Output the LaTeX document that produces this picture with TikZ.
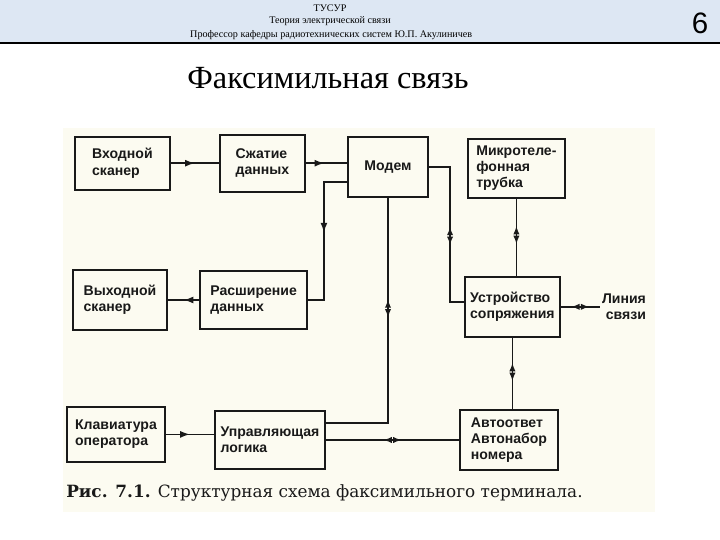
\documentclass[tikz,border=0pt]{standalone}
\usepackage{fontspec}
\setmainfont{Liberation Serif}
\setsansfont{Liberation Sans}
\newfontfamily\capfont{DejaVu Serif}
\usetikzlibrary{arrows.meta, decorations.markings}
\definecolor{hdrblue}{RGB}{221,231,243}
\definecolor{scanbg}{RGB}{252,251,241}
\definecolor{ink}{RGB}{25,25,25}

\begin{document}
\begin{tikzpicture}[
        blk/.style={draw=ink, line width=1.2pt, align=left, font=\sffamily\bfseries\fontsize{10}{11.5}\selectfont, text=ink},
        wire/.style={draw=ink, line width=1.2pt},
        arr/.style={wire, postaction={decorate}, decoration={markings, mark=at position #1 with {\arrow{Latex[length=7pt,width=5pt]}}}},
        dbl/.style={wire, postaction={decorate}, decoration={markings, mark=at position #1 with {\pgftransformxshift{6.5pt}\arrow{Latex[length=6pt,width=4.5pt]}\pgftransformxshift{-13pt}\arrowreversed{Latex[length=6pt,width=4.5pt]}}}}
    ]
        \useasboundingbox (0, 0) rectangle (18, 13.5);
        \fill[white] (0, 0) rectangle (18, 13.5);
        \fill[hdrblue] (0, 12.42) rectangle (18, 13.5);
        \draw[line width=1.2pt] (0, 12.42) -- (18, 12.42);
        \node[font=\fontsize{7.2}{8}\selectfont] (hdrA) at (8.25, 13.3) {ТУСУР};
        \node[font=\fontsize{7.2}{8}\selectfont] (hdrB) at (8.25, 12.97) {Теория электрической связи};
        \node[font=\fontsize{7.2}{8}\selectfont] (hdrC) at (8.28, 12.63) {Профессор кафедры радиотехнических систем Ю.П. Акулиничев};
        \node[font=\sffamily\fontsize{21}{22}\selectfont] (pnum) at (17.5, 12.92) {6};
        \node[font=\fontsize{23}{24}\selectfont] (ttl) at (8.2, 11.55) {Факсимильная связь};

        % scanned figure
        \fill[scanbg] (1.575, 0.7) rectangle (16.375, 10.3);

        \node[blk, minimum width=2.375cm, minimum height=1.325cm] (vhod) at (3.06, 9.42) {Входной\\сканер};
        \node[blk, minimum width=2.125cm, minimum height=1.425cm] (szh) at (6.56, 9.42) {Сжатие\\данных};
        \node[blk, minimum width=2cm, minimum height=1.5cm] (modem) at (9.7, 9.33) {Модем};
        \node[blk, minimum width=2.425cm, minimum height=1.475cm] (mikro) at (12.91, 9.29) {Микротеле-\\фонная\\трубка};
        \node[blk, minimum width=2.35cm, minimum height=1.5cm] (vyhod) at (3.0, 6.0) {Выходной\\сканер};
        \node[blk, minimum width=2.675cm, minimum height=1.45cm] (rasch) at (6.34, 6.0) {Расширение\\данных};
        \node[blk, minimum width=2.375cm, minimum height=1.5cm] (ustr) at (12.81, 5.83) {Устройство\\сопряжения};
        \node[blk, draw=none, align=right, inner sep=1pt] (linia) at (15.6, 5.83) {Линия\\связи};
        \node[blk, minimum width=2.45cm, minimum height=1.375cm] (klav) at (2.9, 2.64) {Клавиатура\\оператора};
        \node[blk, minimum width=2.75cm, minimum height=1.45cm] (upr) at (6.75, 2.5) {Управляющая\\логика};
        \node[blk, minimum width=2.45cm, minimum height=1.5cm] (avto) at (12.725, 2.5) {Автоответ\\Автонабор\\номера};

        \coordinate (b1) at ([xshift=0.4cm]rasch.east);
        \coordinate (b2) at ([xshift=-0.35cm, yshift=0.12cm]ustr.west);

        \draw[arr=0.5] (vhod) -- (szh);
        \draw[arr=0.45] (szh.east) -- (szh.east -| modem.west);
        \draw[arr=0.47] ([yshift=-0.38cm]modem.west) -| (b1) -- (rasch.east);
        \draw[arr=0.5] (rasch) -- (vyhod);
        \draw[dbl=0.53] (modem.east) -| (b2) -- (b2 -| ustr.west);
        \draw[dbl=0.47] (mikro.south) -- (mikro.south |- ustr.north);
        \draw[dbl=0.5] (ustr.east) -- (linia.west);
        \draw[dbl=0.48] (ustr.south) -- (ustr.south |- avto.north);
        \draw[dbl=0.385] (modem.south) |- ([yshift=0.42cm]upr.east);
        \draw[dbl=0.5] (upr) -- (avto);
        \draw[arr=0.5] (klav.east) -- (klav.east -| upr.west);

        \node[anchor=west, font=\capfont\fontsize{12}{13}\selectfont, text=ink, inner sep=0pt] (cap) at (1.65, 1.17) {\textbf{Рис. 7.1.} Структурная схема факсимильного терминала.};
    \end{tikzpicture}
\end{document}
